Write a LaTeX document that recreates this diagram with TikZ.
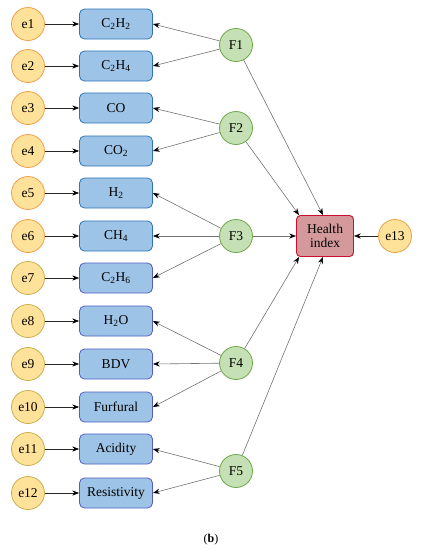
\documentclass[tikz,border=0pt]{standalone}
\usepackage{fontspec}
\setmainfont{Liberation Serif}
\usetikzlibrary{arrows.meta,positioning}
\definecolor{erand}{HTML}{F0A050}
\definecolor{erandb}{HTML}{C8B050}
\definecolor{efyll}{HTML}{FFE299}
\definecolor{mblue}{HTML}{2E75B6}
\definecolor{mpurple}{HTML}{4F5FC0}
\definecolor{mfyll}{HTML}{9DC3E6}
\definecolor{fgreen}{HTML}{6EA84A}
\definecolor{ffyll}{HTML}{C5E0B4}
\definecolor{hred}{HTML}{C8102E}
\definecolor{hfyll}{HTML}{D3999B}
\tikzset{
  >={Stealth[length=2.4mm,width=1.8mm,color=black]},
  % fel
  en/.style={circle,draw=erand,fill=efyll,line width=0.8pt,inner sep=0pt,
             minimum size=33pt,font=\fontsize{13.5}{15}\selectfont},
  enb/.style={en,draw=erandb},
  % matvarden
  mv/.style={rectangle,rounded corners=5pt,draw=mblue,fill=mfyll,line width=0.8pt,
             minimum width=73pt,minimum height=30pt,inner sep=1pt,
             font=\fontsize{13.5}{15}\selectfont},
  mvb/.style={mv,draw=mpurple},
  % faktorer
  fk/.style={circle,draw=fgreen,fill=ffyll,line width=0.8pt,inner sep=0pt,
             minimum size=33pt,font=\fontsize{13.5}{15}\selectfont},
  hi/.style={rectangle,rounded corners=4pt,draw=hred,fill=hfyll,line width=0.9pt,
             minimum width=57pt,minimum height=41pt,inner sep=1pt,align=center,
             font=\fontsize{13.5}{14}\selectfont},
  ea/.style={->,draw=black!85,line width=0.6pt},
  fa/.style={->,draw=black!55,line width=0.6pt},
}
\newcommand{\sub}[1]{\textsubscript{#1}}
\begin{document}
\begin{tikzpicture}[x=1pt,y=-1pt]
\useasboundingbox (0,0) rectangle (422,550);
  \node[en] (e1) at (28,24) {e1};
  \node[en] (e2) at (28,66) {e2};
  \node[en] (e3) at (28,108) {e3};
  \node[en] (e4) at (28,151) {e4};
  \node[en] (e5) at (28,193) {e5};
  \node[en] (e6) at (28,236) {e6};
  \node[enb] (e7) at (28,278) {e7};
  \node[enb] (e8) at (28,321) {e8};
  \node[enb] (e9) at (28,364) {e9};
  \node[enb] (e10) at (28,407) {e10};
  \node[enb] (e11) at (28,449) {e11};
  \node[enb] (e12) at (28,493) {e12};
  \node[mv] (m1) at (116,24) {C\sub{2}H\sub{2}};
  \node[mv] (m2) at (116,66) {C\sub{2}H\sub{4}};
  \node[mv] (m3) at (116,108) {CO};
  \node[mv] (m4) at (116,151) {CO\sub{2}};
  \node[mv] (m5) at (116,193) {H\sub{2}};
  \node[mv] (m6) at (116,236) {CH\sub{4}};
  \node[mvb] (m7) at (116,278) {C\sub{2}H\sub{6}};
  \node[mvb] (m8) at (116,321) {H\sub{2}O};
  \node[mvb] (m9) at (116,364) {BDV};
  \node[mvb] (m10) at (116,407) {Furfural};
  \node[mvb] (m11) at (116,449) {Acidity};
  \node[mvb] (m12) at (116,493) {Resistivity};
  \node[fk] (F1) at (236,45) {F1};
  \node[fk] (F2) at (236,128) {F2};
  \node[fk] (F3) at (236,236) {F3};
  \node[fk] (F4) at (236,363) {F4};
  \node[fk] (F5) at (236,471) {F5};
  \node[hi] (h) at (325,236) {Health\\index};
  \node[en] (e13) at (395,236) {e13};
  \node[font=\fontsize{12}{14}\selectfont] (fig) at (211,540) {(\textbf{b})};
  % fel -> matvarden
  \draw[ea] (e1) -- (m1);
  \draw[ea] (e2) -- (m2);
  \draw[ea] (e3) -- (m3);
  \draw[ea] (e4) -- (m4);
  \draw[ea] (e5) -- (m5);
  \draw[ea] (e6) -- (m6);
  \draw[ea] (e7) -- (m7);
  \draw[ea] (e8) -- (m8);
  \draw[ea] (e9) -- (m9);
  \draw[ea] (e10) -- (m10);
  \draw[ea] (e11) -- (m11);
  \draw[ea] (e12) -- (m12);
  % faktorer -> matvarden
  \draw[fa] (F1) -- (m1.east);
  \draw[fa] (F1) -- (m2.east);
  \draw[fa] (F2) -- (m3.east);
  \draw[fa] (F2) -- (m4.east);
  \draw[fa] (F3) -- (m5.east);
  \draw[fa] (F3) -- (m6.east);
  \draw[fa] (F3) -- (m7.east);
  \draw[fa] (F4) -- (m8.east);
  \draw[fa] (F4) -- (m9.east);
  \draw[fa] (F4) -- (m10.east);
  \draw[fa] (F5) -- (m11.east);
  \draw[fa] (F5) -- (m12.east);
  % faktorer -> index
  \draw[fa] (F1) -- ([xshift=-2pt]h.north);
  \draw[fa] (F2) -- ([xshift=3pt]h.north west);
  \draw[fa] (F3) -- (h);
  \draw[fa] (F4) -- ([xshift=3pt]h.south west);
  \draw[fa] (F5) -- ([xshift=-2pt]h.south);
  \draw[ea] (e13) -- (h);
\end{tikzpicture}
\end{document}
